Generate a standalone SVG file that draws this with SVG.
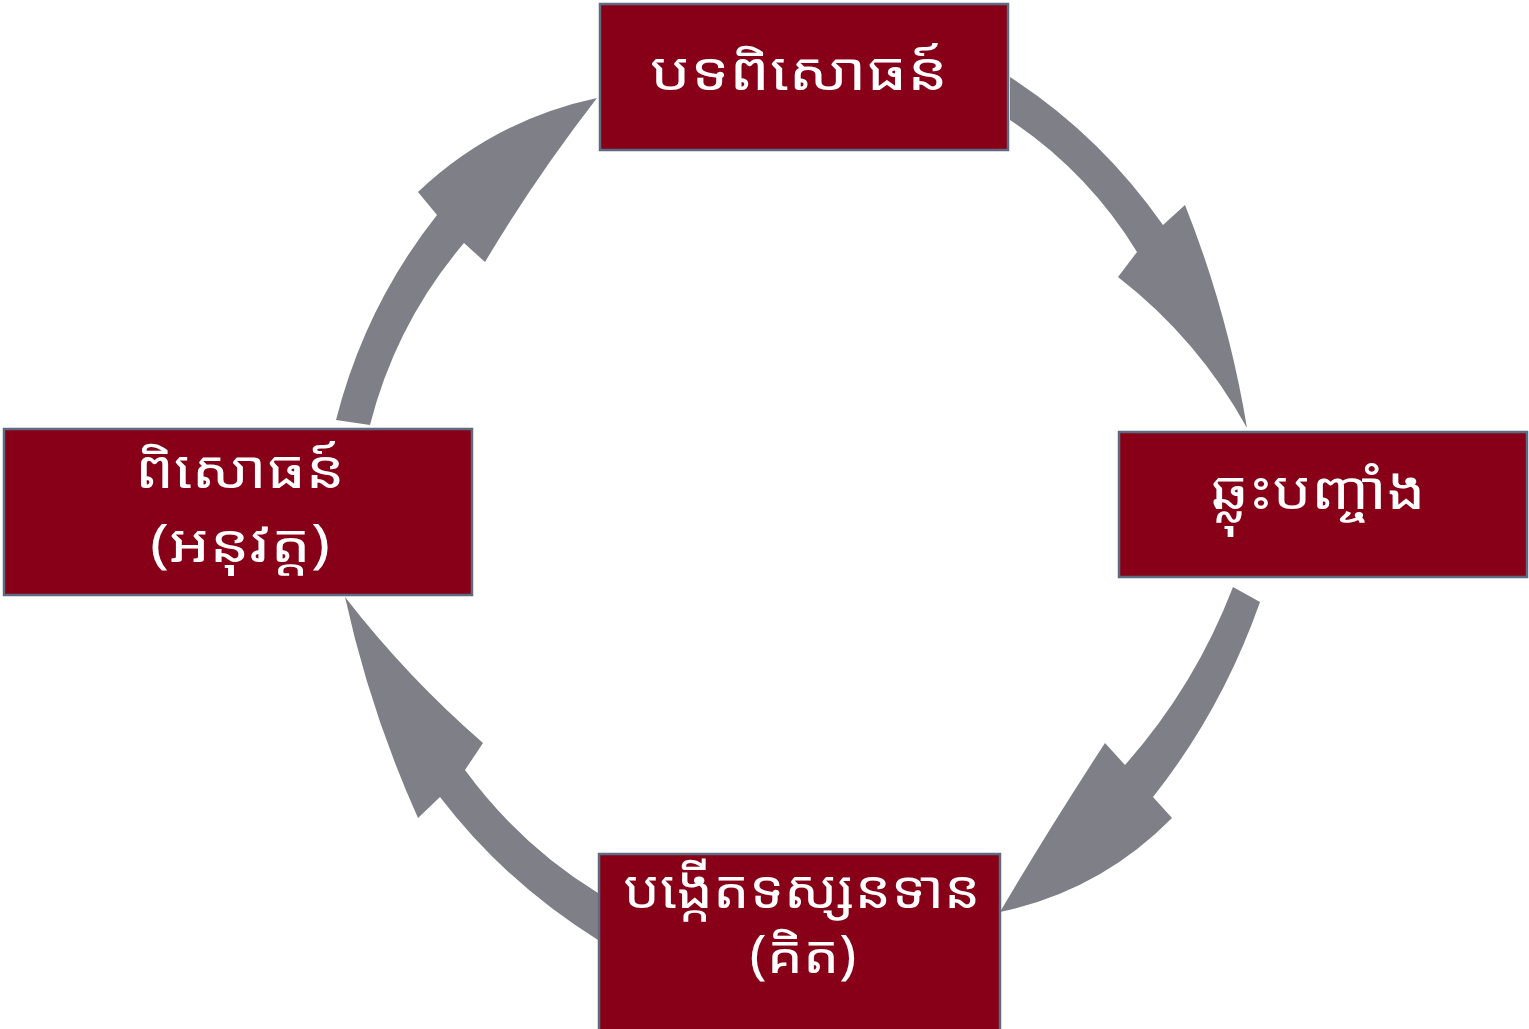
<svg xmlns="http://www.w3.org/2000/svg" width="1529" height="1029" viewBox="0 0 1529 1029">
<style>
.box{fill:#870018;stroke:#5d6b80;stroke-width:2.5}
.lbl{fill:#ffffff;font-family:"Noto Sans Khmer","Khmer OS System","Khmer OS","Noto Sans","DejaVu Sans",sans-serif;font-size:52px;text-anchor:middle}
.arr{fill:#7e7f87}
</style>
<rect width="1529" height="1029" fill="#ffffff"/>
<g id="connectors">
<path class="arr" d="M336,420 Q365,306 437,215 L418,192 Q494,120 597,98 Q535,178 485,262 L464,243 Q396,323 370,425 Z"/>
<path class="arr" d="M1010,77 Q1100,135 1163,225 L1185,205 Q1228,313 1247,428 Q1198,339 1118,277 L1137,252 Q1088,172 1010,120 Z"/>
<path class="arr" d="M1260,602 Q1222,710 1153,797 L1172,818 Q1100,891 1000,912 Q1047,832 1105,743 L1125,765 Q1195,686 1233,587 Z"/>
<path class="arr" d="M598,893 Q520,845 465,770 L483,743 Q407,677 345,597 Q370,711 418,818 L440,797 Q505,882 598,940 Z"/>
</g>
<g id="node-experience">
<rect class="box" x="600" y="4" width="408" height="146"/>
<text class="lbl" x="799" y="90" textLength="298" lengthAdjust="spacingAndGlyphs">បទពិសោធន៍</text>
</g>
<g id="node-reflection">
<rect class="box" x="1119" y="432" width="408" height="145"/>
<text class="lbl" x="1318" y="509" textLength="215" lengthAdjust="spacingAndGlyphs">ឆ្លុះបញ្ចាំង</text>
</g>
<g id="node-concept">
<rect class="box" x="599" y="854" width="401" height="180"/>
<text class="lbl" x="802" y="908" textLength="357" lengthAdjust="spacingAndGlyphs">បង្កើតទស្សនទាន</text>
<text class="lbl" x="803" y="973" textLength="107" lengthAdjust="spacingAndGlyphs">(គិត)</text>
</g>
<g id="node-practice">
<rect class="box" x="4" y="429" width="468" height="166"/>
<text class="lbl" x="240" y="488" textLength="210" lengthAdjust="spacingAndGlyphs">ពិសោធន៍</text>
<text class="lbl" x="240" y="562" textLength="180" lengthAdjust="spacingAndGlyphs">(អនុវត្ត)</text>
</g>
</svg>
